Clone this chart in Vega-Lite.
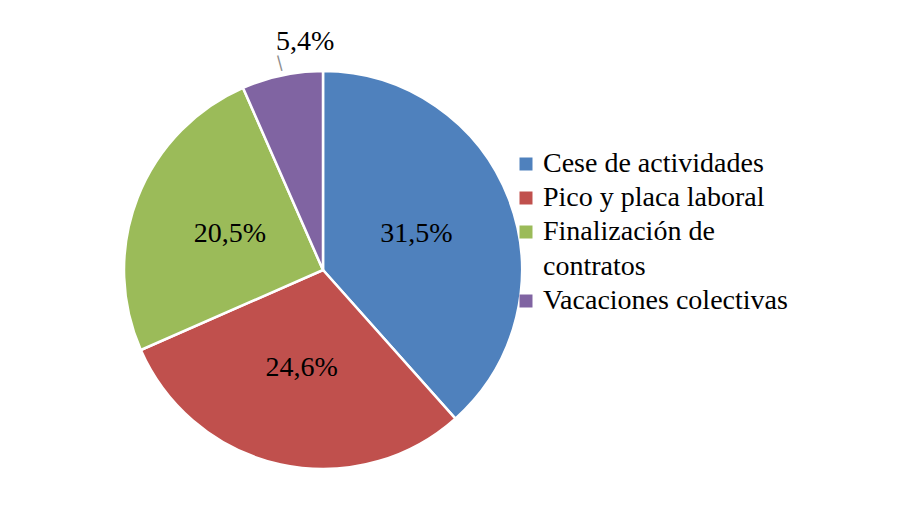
{
  "$schema": "https://vega.github.io/schema/vega-lite/v6.json",
  "width": 630,
  "height": 528,
  "autosize": {"type": "none"},
  "padding": {"left": 8, "top": 6, "right": 271, "bottom": 0},
  "background": "white",
  "config": {
    "view": {"stroke": null},
    "font": "Liberation Serif",
    "style": {"guide-label": {"lineHeight": 35}}
  },
  "data": {
    "values": [
      {"cat": "Cese de actividades", "value": 31.5, "label": "31,5%", "rank": 1},
      {"cat": "Pico y placa laboral", "value": 24.6, "label": "24,6%", "rank": 2},
      {"cat": "Finalización de contratos", "value": 20.5, "label": "20,5%", "rank": 3},
      {"cat": "Vacaciones colectivas", "value": 5.4, "label": "5,4%", "rank": 4}
    ]
  },
  "encoding": {
    "theta": {"field": "value", "type": "quantitative", "stack": true},
    "order": {"field": "rank", "type": "quantitative"}
  },
  "layer": [
    {
      "mark": {"type": "arc", "radius": 199, "stroke": "white", "strokeWidth": 2.5},
      "encoding": {
        "color": {
          "field": "cat",
          "type": "nominal",
          "scale": {
            "domain": ["Cese de actividades", "Pico y placa laboral", "Finalización de contratos", "Vacaciones colectivas"],
            "range": ["#4F81BD", "#C0504D", "#9BBB59", "#8064A2"]
          },
          "legend": {
            "orient": "none",
            "legendX": 504,
            "legendY": 144,
            "title": null,
            "symbolType": "square",
            "symbolSize": 169,
            "symbolStrokeWidth": 0,
            "symbolOpacity": 1,
            "labelFontSize": 28,
            "labelFont": "Liberation Serif",
            "labelColor": "black",
            "labelLimit": 400,
            "labelOffset": 3,
            "rowPadding": 6,
            "labelExpr": "datum.value == 'Finalización de contratos' ? ['Finalización de', 'contratos'] : datum.label"
          }
        }
      }
    },
    {
      "mark": {"type": "text", "radius": 100, "fontSize": 28, "font": "Liberation Serif", "color": "black"},
      "encoding": {
        "detail": {"field": "cat", "type": "nominal"},
        "text": {"condition": {"test": "datum.rank < 4", "field": "label"}, "value": ""}
      }
    },
    {
      "mark": {"type": "text", "radius": 233, "dx": 30, "fontSize": 28, "font": "Liberation Serif", "color": "black"},
      "encoding": {
        "detail": {"field": "cat", "type": "nominal"},
        "text": {"condition": {"test": "datum.rank == 4", "field": "label"}, "value": ""}
      }
    },
    {
      "mark": {"type": "text", "radius": 212, "angle": 345, "fontSize": 16, "font": "DejaVu Sans", "color": "#8c8c8c"},
      "encoding": {
        "detail": {"field": "cat", "type": "nominal"},
        "text": {"condition": {"test": "datum.rank == 4", "value": "|"}, "value": ""}
      }
    }
  ]
}
